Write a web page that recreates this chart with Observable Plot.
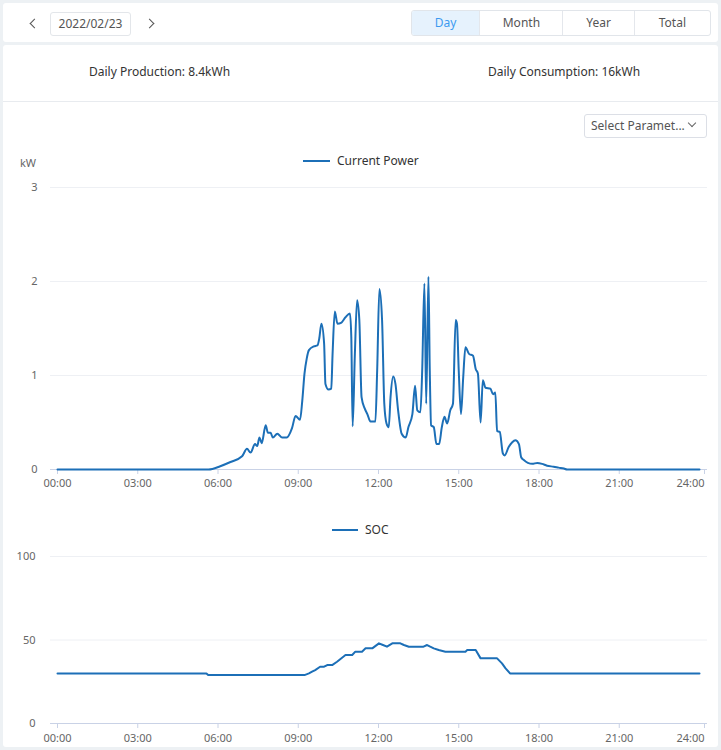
<!DOCTYPE html>
<html>
<head>
<meta charset="utf-8">
<script src="https://cdn.jsdelivr.net/npm/d3@7"></script>
<script src="https://cdn.jsdelivr.net/npm/@observablehq/plot@0.6"></script>
<style>
  body { margin: 0; width: 721px; height: 750px; overflow: hidden; position: relative;
         background: #edf1f4; font-family: "Noto Sans", sans-serif; color: #333; }
  .abs { position: absolute; }
  .card { position: absolute; background: #fff; border-radius: 3px; }
  .chev { position: absolute; width: 6px; height: 6px; border-left: 1.4px solid #555; border-bottom: 1.4px solid #555; }
  #date { left: 50px; top: 12px; width: 79px; height: 22px; border: 1px solid #e3e6ea; border-radius: 3px;
          font-size: 12px; color: #555; line-height: 22px; text-align: center; }
  #seg { left: 411px; top: 10px; width: 298px; height: 24px; border: 1px solid #e1e5ea; border-radius: 3px; display: flex; overflow: hidden; }
  #seg div { font-size: 12px; color: #555; line-height: 24px; text-align: center; border-left: 1px solid #e4e7ec; }
  #seg div.on { background: #e6f2fd; color: #3c9af0; border-left: none; }
  .stat { font-size: 12px; color: #333; top: 63px; line-height: 18px; }
  #sep { left: 3px; top: 101px; width: 715px; height: 1px; background: #e8ebef; }
  #select { left: 584px; top: 114px; width: 123px; height: 24px; border: 1px solid #dcdfe6; border-radius: 3px;
            font-size: 12px; color: #555; line-height: 22px; padding-left: 6px; box-sizing: border-box; }
  .legend-swatch { position: absolute; height: 2.5px; background: #1c6fb7; }
  .legend-text { position: absolute; font-size: 12px; color: #333; line-height: 16px; }
  .unit { position: absolute; font-size: 11px; color: #666; line-height: 14px; }
  .chart { position: absolute; left: 0; }
</style>
</head>
<body>
<div class="card" style="left:3px;top:3px;width:715px;height:39px;"></div>
<div class="card" style="left:3px;top:45px;width:715px;height:702px;"></div>

<div class="chev" style="left:31px;top:20px;transform:rotate(45deg);"></div>
<div id="date" class="abs">2022/02/23</div>
<div class="chev" style="left:146px;top:20px;transform:rotate(-135deg);"></div>

<div id="seg" class="abs">
  <div class="on" style="width:68px">Day</div>
  <div style="width:83px">Month</div>
  <div style="width:71px">Year</div>
  <div style="width:76px">Total</div>
</div>

<div class="abs stat" style="left:89px;">Daily Production: 8.4kWh</div>
<div class="abs stat" style="left:488px;">Daily Consumption: 16kWh</div>
<div id="sep" class="abs"></div>

<div id="select" class="abs">Select Paramet...</div>
<div class="chev" style="left:689px;top:120px;width:5px;height:5px;border-color:#666;border-width:1px;transform:rotate(-45deg);"></div>

<div class="legend-swatch" style="left:303px;top:159.5px;width:27px;"></div>
<div class="legend-text" style="left:337px;top:153px;">Current Power</div>
<div class="unit" style="left:20px;top:156px;">kW</div>

<div class="legend-swatch" style="left:332px;top:528.5px;width:26px;"></div>
<div class="legend-text" style="left:365px;top:522px;">SOC</div>

<div id="power" class="chart" style="top:180px;"></div>
<div id="soc" class="chart" style="top:540px;"></div>

<script>
// Current power (kW) through the day, sampled at the listed clock times
const powerTimes = [
  "00:00","05:39","06:05","06:28","06:54","07:05","07:13","07:23","07:28","07:33","07:38","07:47","07:52","07:58",
  "08:03","08:13","08:24","08:34","08:46","08:54","09:04","09:09","09:14","09:19","09:24","09:35","09:43","09:47",
  "09:52","09:58","10:01","10:08","10:14","10:17","10:22","10:28","10:36","10:46","10:56","10:59","11:02","11:07",
  "11:12","11:17","11:22","11:29","11:35","11:42","11:53","11:57","12:02","12:08","12:13","12:18","12:23","12:27",
  "12:33","12:38","12:44","12:52","13:01","13:07","13:16","13:22","13:27","13:34","13:38","13:43","13:47","13:52",
  "13:55","13:58","14:04","14:10","14:16","14:22","14:28","14:34","14:41","14:47","14:53","14:56","15:00","15:05",
  "15:10","15:15","15:23","15:32","15:38","15:43","15:49","15:54","16:00","16:11","16:17","16:22","16:26","16:32",
  "16:39","16:43","16:52","17:00","17:07","17:15","17:20","17:26","17:35","17:45","17:56","18:07","18:18","18:33",
  "18:44","18:56","19:03","24:00"
];
const powerValues = [
  0, 0, 0.035, 0.08, 0.14, 0.22, 0.18, 0.27, 0.25, 0.34, 0.28, 0.47, 0.39, 0.39,
  0.34, 0.38, 0.34, 0.34, 0.44, 0.57, 0.53, 0.73, 1.02, 1.18, 1.27, 1.31, 1.32, 1.39,
  1.55, 1.34, 0.91, 0.85, 0.86, 1.23, 1.68, 1.55, 1.56, 1.62, 1.66, 1.41, 0.46, 1.23,
  1.80, 1.59, 0.77, 0.65, 0.59, 0.51, 0.51, 1.05, 1.92, 1.59, 0.70, 0.49, 0.45, 0.77,
  0.99, 0.91, 0.63, 0.38, 0.34, 0.45, 0.59, 0.89, 0.63, 0.61, 1.05, 1.98, 0.70, 2.05,
  1.05, 0.47, 0.45, 0.27, 0.27, 0.45, 0.56, 0.49, 0.63, 0.70, 1.59, 1.55, 1.05, 0.59,
  0.98, 1.30, 1.23, 1.21, 1.07, 1.02, 0.50, 0.95, 0.87, 0.86, 0.80, 0.82, 0.41, 0.40,
  0.17, 0.15, 0.24, 0.29, 0.31, 0.27, 0.13, 0.10, 0.07, 0.06, 0.07, 0.06, 0.04, 0.03,
  0.02, 0.01, 0, 0
];

// Battery state of charge (%)
const socTimes = [
  "00:00","05:34","05:38","09:14","09:24","09:31","09:38","09:49","09:58","10:05","10:16","10:27","10:46","11:01",
  "11:08","11:23","11:31","11:46","12:01","12:10","12:19","12:31","12:49","12:57","13:08","13:41","13:49","13:56",
  "14:04","14:15","14:30","15:15","15:19","15:38","15:49","16:26","16:37","16:45","16:55","24:00"
];
const socValues = [
  30, 30, 29, 29, 30, 31, 32, 34, 34, 35, 35, 37, 41, 41,
  43, 43, 45, 45, 48, 47, 46, 48, 48, 47, 46, 46, 47, 46,
  45, 44, 43, 43, 44, 44, 39, 39, 36, 33, 30, 30
];

const hourTicks = [0, 3, 6, 9, 12, 15, 18, 21, 24];
const powerTicks = [0, 1, 2, 3];
const socTicks = [0, 50, 100];

const toHours = t => { const [h, m] = t.split(":").map(Number); return h + m / 60; };
const fmtHour = h => String(h).padStart(2, "0") + ":00";

const powerRows = powerTimes.map((t, i) => ({hour: toHours(t), value: powerValues[i]}));
const socRows = socTimes.map((t, i) => ({hour: toHours(t), value: socValues[i]}));

const LINE = "#1c6fb7";
const AXIS = "#c9d2e6";
const GRID = "#eef0f4";
const FONT = "'Noto Sans', sans-serif";

function timeAxes(padding) {
  return [
    Plot.ruleY([0], {stroke: AXIS}),
    Plot.axisX(hourTicks.slice(0, -1), {tickSize: 5, tickPadding: padding, stroke: AXIS, fill: "#666",
      tickFormat: fmtHour, fontSize: 11, label: null}),
    Plot.axisX([24], {tickSize: 5, tickPadding: padding, stroke: AXIS, fill: "#666",
      tickFormat: fmtHour, fontSize: 11, label: null, textAnchor: "end", dx: 5})
  ];
}

const powerChart = Plot.plot({
  width: 721, height: 320,
  marginLeft: 50, marginRight: 14, marginTop: 7, marginBottom: 31,
  style: {fontFamily: FONT, fontSize: "11px", background: "transparent", overflow: "visible"},
  x: {domain: [0, 24], range: [57, 699], label: null},
  y: {domain: [0, 3], label: null},
  marks: [
    Plot.ruleY(powerTicks.slice(1), {stroke: GRID}),
    ...timeAxes(5),
    Plot.axisY(powerTicks, {tickSize: 0, tickPadding: 13, fill: "#666", fontSize: 11, label: null, tickFormat: d => String(d)}),
    Plot.line(powerRows, {x: "hour", y: "value", stroke: LINE, strokeWidth: 2, curve: "monotone-x"})
  ]
});
document.getElementById("power").appendChild(powerChart);

const socChart = Plot.plot({
  width: 721, height: 210,
  marginLeft: 50, marginRight: 14, marginTop: 16, marginBottom: 27,
  style: {fontFamily: FONT, fontSize: "11px", background: "transparent", overflow: "visible"},
  x: {domain: [0, 24], range: [57, 699], label: null},
  y: {domain: [0, 100], label: null},
  marks: [
    Plot.ruleY(socTicks.slice(1), {stroke: GRID}),
    ...timeAxes(6),
    Plot.axisY(socTicks, {tickSize: 0, tickPadding: 15, fill: "#666", fontSize: 11, label: null, tickFormat: d => String(d)}),
    Plot.line(socRows, {x: "hour", y: "value", stroke: LINE, strokeWidth: 2})
  ]
});
document.getElementById("soc").appendChild(socChart);
</script>
</body>
</html>
